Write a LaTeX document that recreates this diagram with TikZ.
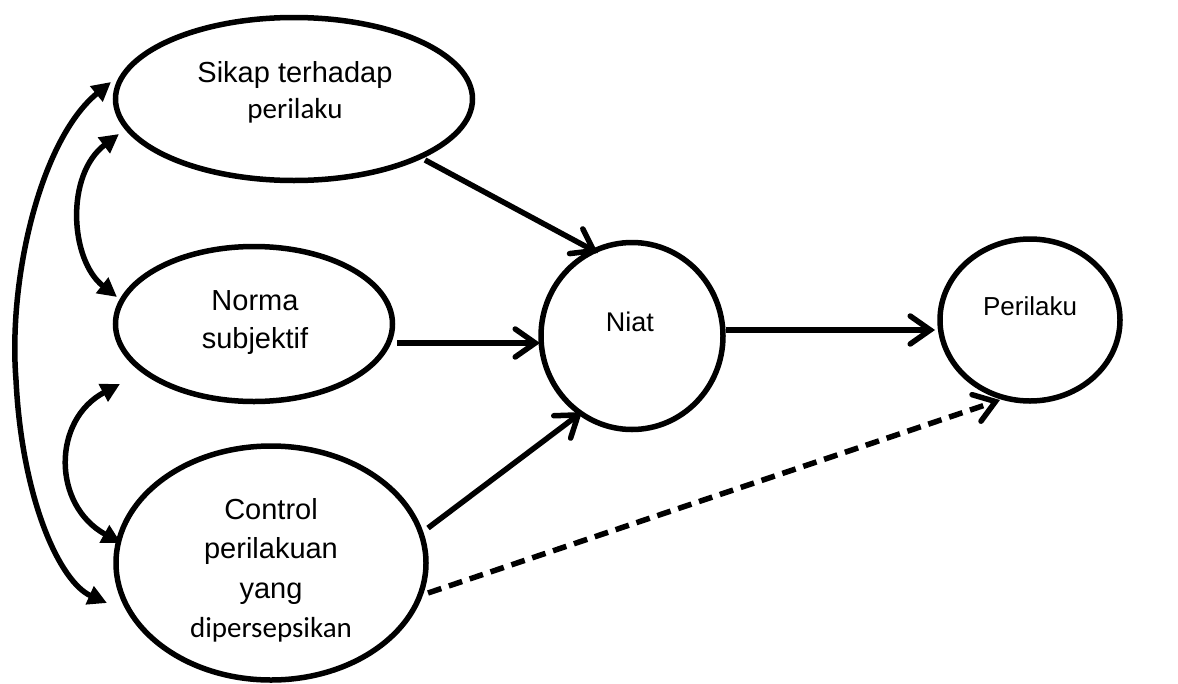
\documentclass[tikz,border=0pt]{standalone}
\usepackage{fontspec}
\setmainfont{Liberation Sans}
\newfontfamily\calib{Carlito}
\usetikzlibrary{arrows.meta,shapes.geometric}
\begin{document}
\begin{tikzpicture}[x=1pt,y=-1pt,
  ell/.style={draw,ellipse,line width=5.5pt,inner sep=0pt},
  lbl/.style={font=\fontsize{29}{34}\selectfont,inner sep=0pt,anchor=base},
  lblc/.style={font=\calib\fontsize{29}{34}\selectfont,inner sep=0pt,anchor=base},
  conn/.style={line width=5.5pt,-{Straight Barb[length=20pt,width=28pt,line cap=round]}},
  corr/.style={line width=5.5pt,{Triangle[length=19pt,width=19pt]}-{Triangle[length=19pt,width=19pt]}},
]
\useasboundingbox (0,0) rectangle (1178,683);
% ellipses
\node[ell,minimum width=357pt,minimum height=163pt] (sikap) at (294,99) {};
\node[ell,minimum width=277pt,minimum height=155pt] (norma) at (254,324) {};
\node[ell,minimum width=310pt,minimum height=234pt] (control) at (271,563) {};
\node[ell,minimum width=182pt,minimum height=187pt] (niat) at (632,336) {};
\node[ell,minimum width=180pt,minimum height=162pt] (perilaku) at (1030,320) {};
% labels
\node[lbl] (t1) at (295,82) {Sikap terhadap};
\node[lblc] (t2) at (295,118) {perilaku};
\node[lbl] (t3) at (255,310) {Norma};
\node[lbl] (t4) at (255,348) {subjektif};
\node[lbl] (t5) at (271,519) {Control};
\node[lbl] (t6) at (271,558) {perilakuan};
\node[lbl] (t7) at (271,598) {yang};
\node[lblc] (t8) at (271,637) {dipersepsikan};
\node[lbl,font=\fontsize{27}{30}\selectfont] (t9) at (630,331) {Niat};
\node[lbl,font=\fontsize{26}{30}\selectfont] (t10) at (1030,315) {Perilaku};
% connector end points
\coordinate (a1) at (425,160);
\coordinate (a2) at (598,253);
\coordinate (b1) at (397,343);
\coordinate (b2) at (540,343);
\coordinate (c1) at (428,528);
\coordinate (c2) at (582,412);
\coordinate (d1) at (726,330);
\coordinate (d2) at (935,330);
\coordinate (e1) at (428,593);
\coordinate (e2) at (1000,400);
\coordinate (o1) at (111,82);
\coordinate (o2) at (107,603);
\coordinate (p1) at (119,134);
\coordinate (p2) at (117,297);
\coordinate (q1) at (120,384);
\coordinate (q2) at (121,543);
% arrows
\draw[conn] (a1) -- (a2);
\draw[conn] (b1) -- (b2);
\draw[conn] (c1) -- (c2);
\draw[conn] (d1) -- (d2);
\draw[conn,dash pattern=on 14pt off 8pt] (e1) -- (e2);
\draw[corr] (o1) .. controls (40,140) and (8,280) .. (16,380) .. controls (22,500) and (60,582) .. (o2);
\draw[corr] (p1) .. controls (65,175) and (70,260) .. (p2);
\draw[corr] (q1) .. controls (52,420) and (52,505) .. (q2);
\end{tikzpicture}
\end{document}
